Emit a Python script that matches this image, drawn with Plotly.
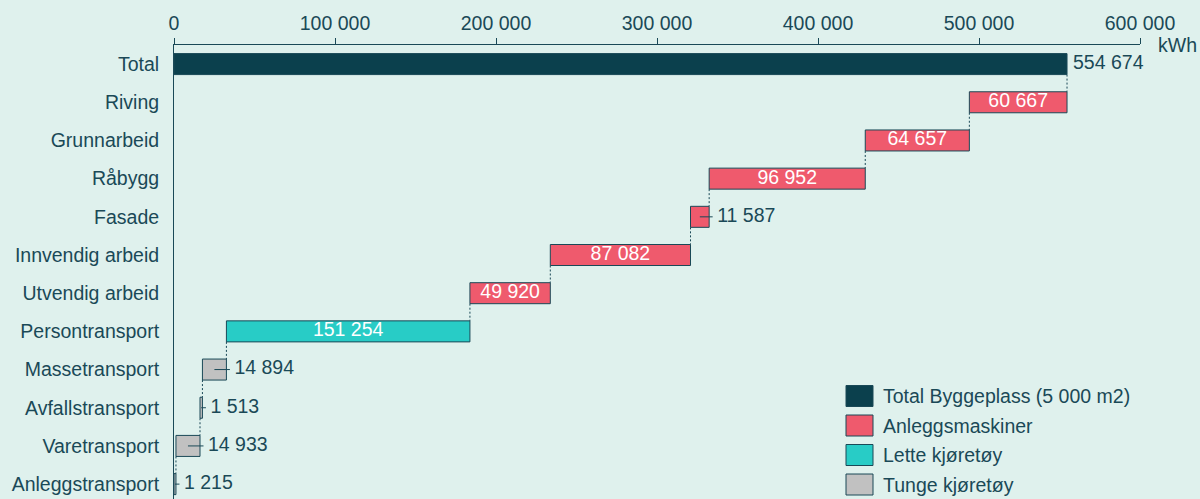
import plotly.graph_objects as go

categories = ["Total", "Riving", "Grunnarbeid", "Råbygg", "Fasade", "Innvendig arbeid",
              "Utvendig arbeid", "Persontransport", "Massetransport", "Avfallstransport",
              "Varetransport", "Anleggstransport"]
values = [554674, 60667, 64657, 96952, 11587, 87082, 49920, 151254, 14894, 1513, 14933, 1215]
groups = ["Total Byggeplass (5 000 m2)"] + ["Anleggsmaskiner"] * 6 + ["Lette kjøretøy"] + ["Tunge kjøretøy"] * 4
group_order = ["Total Byggeplass (5 000 m2)", "Anleggsmaskiner", "Lette kjøretøy", "Tunge kjøretøy"]
group_colors = {"Total Byggeplass (5 000 m2)": "#0b404d", "Anleggsmaskiner": "#ef5a6d",
                "Lette kjøretøy": "#28ccc6", "Tunge kjøretøy": "#c1c1c1"}
x_ticks = [0, 100000, 200000, 300000, 400000, 500000, 600000]
unit = "kWh"

BG = "#dff1ed"
INK = "#1a4957"
FONT = "Arial, Liberation Sans, sans-serif"
FS = 19.5

L, R, T, B = 174, 60, 45, 0
PW, PH = 1200 - L - R, 499 - T - B
XMAX = 600000
px2x = XMAX / PW


def fmt(v):
    return f"{v:,}".replace(",", " ")


n = len(categories)
ypos = list(range(n))
bases = [0] + [sum(values[i + 1:]) for i in range(1, n)]
ends = [b + v for b, v in zip(bases, values)]
W = 0.55

fig = go.Figure()
for g in group_order:
    idx = [i for i in range(n) if groups[i] == g]
    fig.add_trace(go.Bar(
        orientation="h", y=[ypos[i] for i in idx], x=[values[i] for i in idx],
        base=[bases[i] for i in idx], width=W, name=g, showlegend=False,
        marker=dict(color=group_colors[g], line=dict(color=INK, width=1)),
        hoverinfo="skip"))

# connectors
cx, cy = [], []
for i in range(n - 1):
    xv = ends[0] if i == 0 else bases[i]
    cx += [xv, xv, None]
    cy += [ypos[i] + W / 2, ypos[i + 1] - W / 2, None]
fig.add_trace(go.Scatter(x=cx, y=cy, mode="lines", showlegend=False, hoverinfo="skip",
                         line=dict(color=INK, width=1, dash="2px,2px")))

# labels
inside = [(groups[i] != group_order[0]) and values[i] > 30000 for i in range(n)]
in_idx = [i for i in range(n) if inside[i]]
out_idx = [i for i in range(n) if not inside[i]]
fig.add_trace(go.Scatter(
    x=[(bases[i] + ends[i]) / 2 for i in in_idx], y=[ypos[i] for i in in_idx],
    text=[fmt(values[i]) for i in in_idx], mode="text", showlegend=False, hoverinfo="skip",
    cliponaxis=False, textfont=dict(color="white", size=FS, family=FONT)))

# leader lines for small bars
lx, ly = [], []
lead = [i for i in out_idx if i != 0]
for i in lead:
    lx += [(bases[i] + ends[i]) / 2, ends[i] + 3.5 * px2x, None]
    ly += [ypos[i], ypos[i], None]
fig.add_trace(go.Scatter(x=lx, y=ly, mode="lines", showlegend=False, hoverinfo="skip",
                         line=dict(color=INK, width=1)))
fig.add_trace(go.Scatter(
    x=[ends[i] + (6 if i == 0 else 8) * px2x for i in out_idx], y=[ypos[i] for i in out_idx],
    text=[fmt(values[i]) for i in out_idx], mode="text", textposition="middle right",
    showlegend=False, hoverinfo="skip", cliponaxis=False,
    textfont=dict(color=INK, size=FS, family=FONT)))

fig.add_annotation(text=unit, xref="paper", yref="paper", x=1, y=1, xanchor="left",
                   yanchor="middle", xshift=16, showarrow=False,
                   font=dict(color=INK, size=FS, family=FONT))

# legend (drawn as keys + text)
leg_x0, leg_y0, leg_dy = 846, 396, 29.5
for k, g in enumerate(group_order):
    cyp = leg_y0 + k * leg_dy
    fig.add_shape(type="rect", xref="paper", yref="paper",
                  x0=(leg_x0 - L) / PW, x1=(leg_x0 + 27 - L) / PW,
                  y0=(499 - B - (cyp + 10.5)) / PH, y1=(499 - B - (cyp - 10.5)) / PH,
                  fillcolor=group_colors[g], line=dict(color=INK, width=1))
    fig.add_annotation(text=g, xref="paper", yref="paper", x=(leg_x0 + 35 - L) / PW,
                       y=(499 - B - cyp) / PH, xanchor="left", yanchor="middle",
                       showarrow=False, font=dict(color=INK, size=FS, family=FONT))

fig.update_layout(
    width=1200, height=499, barmode="overlay",
    margin=dict(l=L, r=R, t=T, b=B),
    paper_bgcolor=BG, plot_bgcolor=BG,
    font=dict(family=FONT, color=INK, size=FS),
    showlegend=False,
    xaxis=dict(side="top", range=[0, XMAX], tickvals=x_ticks,
               ticktext=[fmt(t) for t in x_ticks], ticks="outside", ticklen=6,
               tickcolor=INK, showline=True, linecolor=INK, linewidth=1,
               showgrid=False, zeroline=False, tickfont=dict(size=FS, color=INK)),
    yaxis=dict(range=[11.39, -0.5], tickvals=ypos, ticktext=categories, ticks="",
               showline=True, linecolor=INK, linewidth=1, showgrid=False, zeroline=False,
               ticklabelstandoff=10, tickfont=dict(size=FS, color=INK)),
)

fig.write_html("out.html")
